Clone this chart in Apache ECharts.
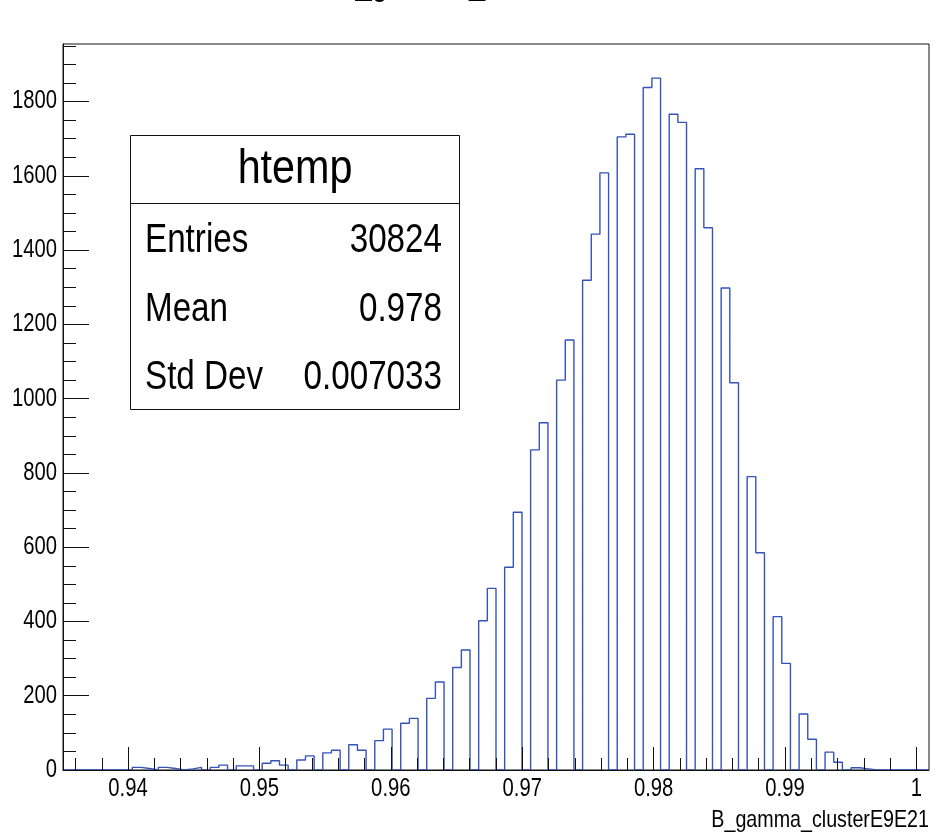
<!DOCTYPE html>
<html>
<head>
<meta charset="utf-8">
<title>B_gamma_clusterE9E21</title>
<script src="https://cdn.jsdelivr.net/npm/echarts@6/dist/echarts.min.js"></script>
<style>
  html, body { margin: 0; padding: 0; background: #fff; }
  #chart { width: 933px; height: 834px; }
</style>
</head>
<body>
<div id="chart"></div>
<script>
// Histogram of B_gamma_clusterE9E21 (100 equal-width bins)
const histName = 'htemp';
const varName = 'B_gamma_clusterE9E21';
const xMin = 0.93505;
const xMax = 1.00096;
const yMax = 1955;

// entries per bin, bin 0 .. bin 99
const binCounts = [
  0, 0, 0, 0, 0, 0, 0, 0, 7, 4,
  0, 7, 4, 0, 3, 7, 0, 7, 13, 0,
  11, 11, 0, 18, 25, 13, 0, 27, 38, 0,
  46, 53, 0, 68, 53, 0, 79, 110, 0, 126,
  139, 0, 193, 237, 0, 276, 323, 0, 402, 489,
  0, 546, 694, 0, 862, 935, 0, 1050, 1158, 0,
  1319, 1443, 1608, 0, 1705, 1712, 0, 1838, 1863, 0,
  1766, 1744, 0, 1619, 1460, 0, 1298, 1043, 0, 790,
  585, 0, 413, 287, 0, 151, 83, 0, 48, 21,
  0, 6, 3, 0, 0, 0, 0, 0, 0, 0
];

// stats box
const statLabels = ['Entries', 'Mean', 'Std Dev'];
const statValues = ['30824', '0.978', '0.007033'];

// axis ticks
const xMajorTicks = [0.94, 0.95, 0.96, 0.97, 0.98, 0.99, 1.0];
const xMinorTicks = [0.936, 0.938, 0.940, 0.942, 0.944, 0.946, 0.948, 0.950, 0.952, 0.954,
  0.956, 0.958, 0.960, 0.962, 0.964, 0.966, 0.968, 0.970, 0.972, 0.974, 0.976, 0.978,
  0.980, 0.982, 0.984, 0.986, 0.988, 0.990, 0.992, 0.994, 0.996, 0.998, 1.000];
const yMajorTicks = [0, 200, 400, 600, 800, 1000, 1200, 1400, 1600, 1800];
const yMinorTicks = [50, 100, 150, 250, 300, 350, 450, 500, 550, 650, 700, 750, 850, 900, 950,
  1050, 1100, 1150, 1250, 1300, 1350, 1450, 1500, 1550, 1650, 1700, 1750, 1850, 1900, 1950];

// narrow Helvetica look: regular sans squeezed horizontally
const FONT = "'Liberation Sans', Arial, sans-serif";
const SQUEEZE = 0.81;
const LINE_BLUE = '#3553b8';
const INK = '#111';

// step outline: each bin drawn from its low edge to the next edge
const binWidth = (xMax - xMin) / binCounts.length;
const outline = [[xMin, 0]];
binCounts.forEach((c, i) => outline.push([xMin + i * binWidth, c]));
outline.push([xMax, binCounts[binCounts.length - 1]]);
outline.push([xMax, 0]);

const chart = echarts.init(document.getElementById('chart'), null, { renderer: 'canvas' });

const baseX = {
  type: 'value', min: xMin, max: xMax, gridIndex: 0, z: 4,
  splitLine: { show: false }, axisLabel: { show: false }
};
const baseY = {
  type: 'value', min: 0, max: yMax, gridIndex: 0, z: 4,
  splitLine: { show: false }, axisLabel: { show: false }
};

function squeezedText(text, x, y, size, align, squeeze) {
  return {
    type: 'text', x: x, y: y, scaleX: squeeze || SQUEEZE, originX: 0, originY: 0, silent: true, z: 11,
    style: { text: text, font: size + 'px ' + FONT, fill: '#000',
      textAlign: align, textVerticalAlign: 'middle' }
  };
}

chart.setOption({
  animation: false,
  backgroundColor: '#fff',
  grid: {
    left: 63, right: 4, top: 44, bottom: 64,
    outerBoundsMode: 'none', containLabel: false,
    show: true, borderColor: INK, borderWidth: 1, backgroundColor: 'transparent'
  },
  xAxis: [
    Object.assign({}, baseX, {
      position: 'bottom',
      axisLine: { show: true, onZero: false, lineStyle: { color: INK, width: 1 } },
      axisTick: { show: true, inside: true, length: 23, customValues: xMajorTicks, lineStyle: { color: INK } }
    }),
    Object.assign({}, baseX, {
      position: 'bottom',
      axisLine: { show: false, onZero: false },
      axisTick: { show: true, inside: true, length: 12, customValues: xMinorTicks, lineStyle: { color: INK } }
    })
  ],
  yAxis: [
    Object.assign({}, baseY, {
      position: 'left',
      axisLine: { show: true, onZero: false, lineStyle: { color: INK, width: 1 } },
      axisTick: { show: true, inside: true, length: 26, customValues: yMajorTicks, lineStyle: { color: INK } }
    }),
    Object.assign({}, baseY, {
      position: 'left',
      axisLine: { show: false, onZero: false },
      axisTick: { show: true, inside: true, length: 13, customValues: yMinorTicks, lineStyle: { color: INK } }
    })
  ],
  series: [{
    name: histName,
    type: 'line',
    step: 'end',
    xAxisIndex: 0,
    yAxisIndex: 0,
    data: outline,
    symbol: 'none',
    z: 2,
    lineStyle: { color: LINE_BLUE, width: 1.4 }
  }]
});

// tick labels placed through the axes' own scales
const xLabelY = chart.convertToPixel({ yAxisIndex: 0 }, 0) + 19;
const yLabelX = chart.convertToPixel({ xAxisIndex: 0 }, xMin) - 6;
const tickLabels = xMajorTicks.map(v =>
  squeezedText(String(+v.toFixed(2)), chart.convertToPixel({ xAxisIndex: 0 }, v), xLabelY, 25, 'center')
).concat(yMajorTicks.map(v =>
  squeezedText(String(v), yLabelX, chart.convertToPixel({ yAxisIndex: 0 }, v), 25, 'right')
));

chart.setOption({
  graphic: [
    // histogram title, mostly above the canvas edge
    squeezedText(varName, 336, -16, 36, 'left'),
    // x axis name
    squeezedText(varName, 929, 820, 24, 'right', 0.82),
    // stats box
    { type: 'rect', shape: { x: 130.5, y: 135.5, width: 329, height: 274 }, z: 10,
      style: { fill: '#fff', stroke: INK, lineWidth: 1 } },
    { type: 'line', shape: { x1: 130.5, y1: 203.5, x2: 459.5, y2: 203.5 }, z: 11,
      style: { stroke: INK, lineWidth: 1 } },
    squeezedText(histName, 295, 170, 48, 'center', 0.86)
  ].concat(statLabels.map((s, i) => squeezedText(s, 145, 241 + i * 68.5, 40, 'left', 0.83)))
   .concat(statValues.map((s, i) => squeezedText(s, 442, 241 + i * 68.5, 40, 'right', 0.83)))
   .concat(tickLabels)
});
</script>
</body>
</html>
